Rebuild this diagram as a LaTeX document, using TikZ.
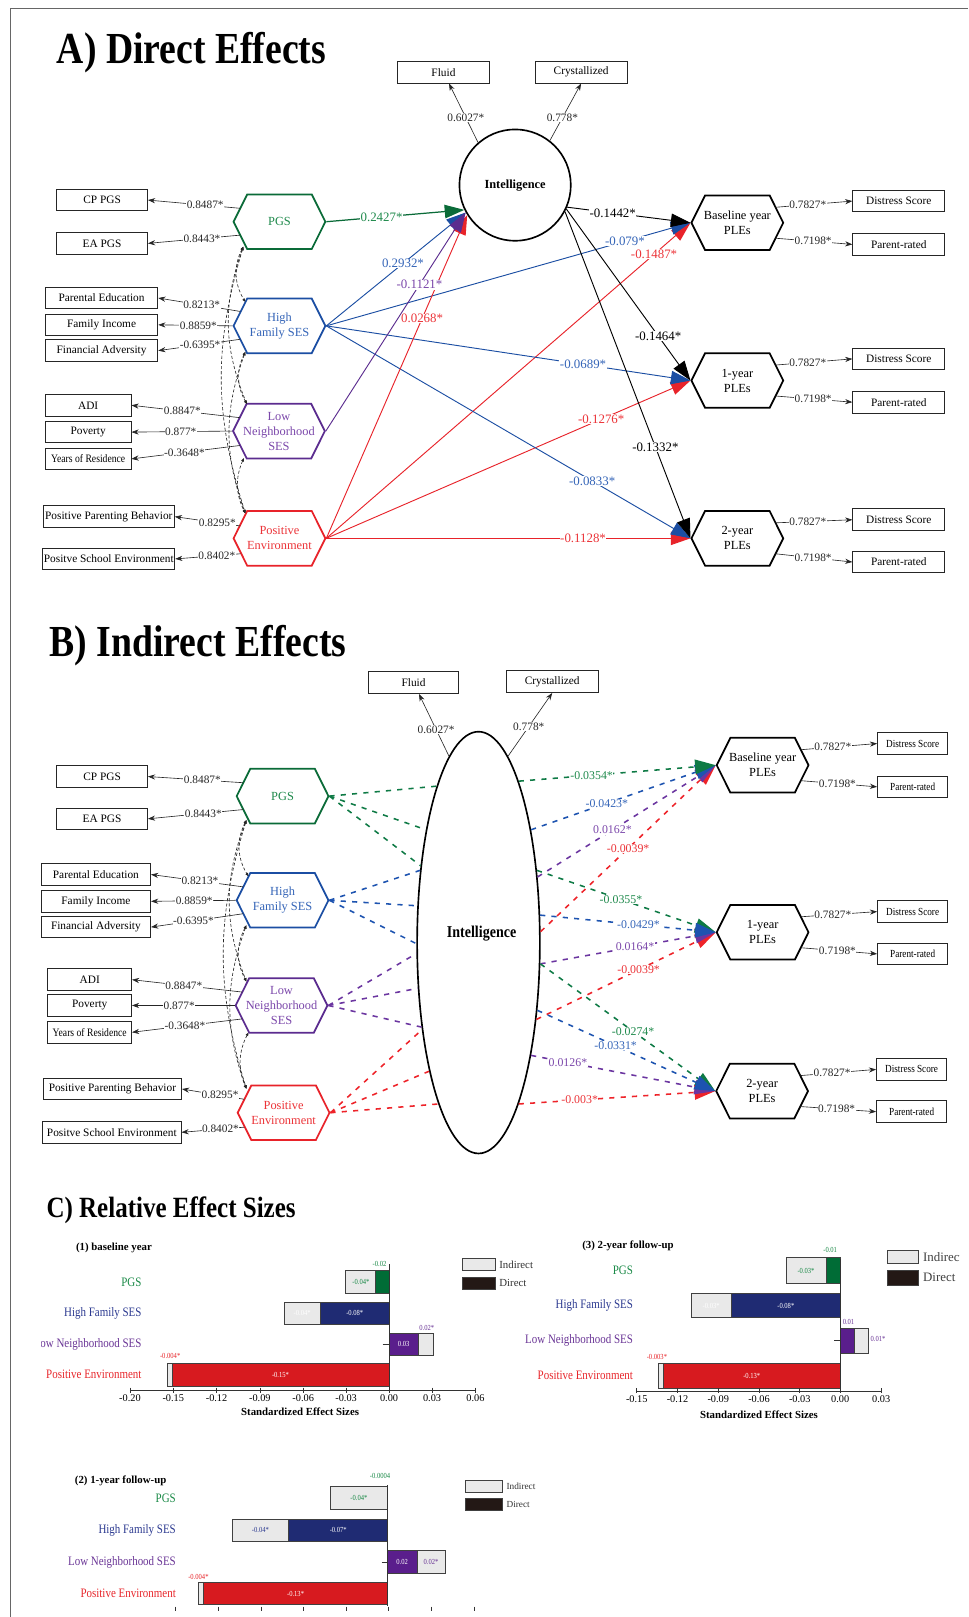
\documentclass[tikz,border=0pt]{standalone}
\usepackage{fontspec}
\usepackage{graphicx}
\setmainfont{Liberation Serif}
\newfontfamily\condf[FakeStretch=0.85]{Liberation Serif}
\usetikzlibrary{arrows.meta,shapes.geometric,shapes.symbols,calc}
\newcommand\fsz[2]{\fontsize{#1pt}{#2pt}\selectfont}
\definecolor{hgreen}{HTML}{0A6B38}
\definecolor{tgreen}{HTML}{1F8A4C}
\definecolor{hblue}{HTML}{1B4EA3}
\definecolor{tblue}{HTML}{3565B8}
\definecolor{hpurp}{HTML}{5B2C8F}
\definecolor{tpurp}{HTML}{7B47AA}
\definecolor{hred}{HTML}{E8232A}
\definecolor{tred}{HTML}{EC3338}
\definecolor{dgreen}{HTML}{0E7A45}
\definecolor{dblue}{HTML}{1D53B0}
\definecolor{dpurp}{HTML}{6B35A0}
\definecolor{dred}{HTML}{EE2329}
\definecolor{navy}{HTML}{1F2B73}
\definecolor{bgreen}{HTML}{006C36}
\definecolor{bpurp}{HTML}{5A1E8C}
\definecolor{bred}{HTML}{D71A1F}
\definecolor{lgray}{HTML}{E9E9E9}
\definecolor{dk}{HTML}{231815}
\definecolor{cgreen}{HTML}{1A8A47}
\definecolor{cnavy}{HTML}{2B3990}
\definecolor{cpurp}{HTML}{6A3596}
\definecolor{cred}{HTML}{E8262B}
\tikzset{
 box/.style={draw=black!85, line width=0.9pt, minimum height=21pt, inner sep=1pt, font=\fsz{11}{13}},
 sbox/.style={box, minimum width=68pt, font=\condf\fsz{10.5}{12}},
 hexa/.style={signal, signal to=east and west, signal pointer angle=127, draw, line width=1.7pt, minimum width=89pt, minimum height=53pt, inner ysep=0pt, inner xsep=-6pt, align=center, font=\fsz{12}{14.5}},
 ld/.style={-{Stealth[length=7pt,width=5pt]}, line width=0.6pt, draw=black!85},
 ldl/.style={fill=white, inner sep=0.5pt, font=\fsz{11}{13}, text=black!85},
 cov/.style={{Latex[length=3.5pt,width=3pt]}-{Latex[length=3.5pt,width=3pt]}, line width=0.6pt, dash pattern=on 3pt off 2pt, draw=black!85},
 pa/.style={line width=0.9pt, -{Triangle[length=19pt,width=13pt]}},
 pl/.style={fill=white, inner sep=0.5pt, font=\fsz{12.5}{14}},
 pb/.style={line width=1.5pt, dash pattern=on 5pt off 6pt, -{Triangle[length=20pt,width=14pt]}},
 pbn/.style={line width=1.5pt, dash pattern=on 5pt off 6pt},
 pbl/.style={fill=white, inner sep=0.5pt, font=\fsz{11.5}{13}},
 bar/.style={draw=black!75, line width=0.6pt},
 axl/.style={draw=black!80, line width=0.7pt},
 tickl/.style={font=\fsz{10}{12}, anchor=north, inner sep=0pt},
 cat/.style={anchor=east, font=\condf\fsz{12.5}{14}, inner sep=0pt},
 bv/.style={font=\condf\fsz{7.5}{8}, inner sep=0pt},
 ctit/.style={font=\bfseries\fsz{10.5}{12}, inner sep=0pt},
}
\begin{document}
\begin{tikzpicture}[x=1pt,y=-1pt]
\useasboundingbox (0,0) rectangle (939,1568);
\fill[white] (0,0) rectangle (939,1568);
\draw[black!60, line width=0.8pt] (10,1568) -- (10,8) -- (939,8);

% ================= Titles
\node[anchor=base west, inner sep=0pt, font=\condf\bfseries\fsz{43}{48}] (titA) at (55,62) {A) Direct Effects};
\node[anchor=base west, inner sep=0pt, font=\condf\bfseries\fsz{43}{48}] (titB) at (48,637) {B) Indirect Effects};
\node[anchor=base west, inner sep=0pt, font=\condf\bfseries\fsz{28.5}{31}] (titC) at (45,1181) {C) Relative Effect Sizes};

% ================= Panel A
\node[box, minimum width=89pt] (fluA) at (430,70) {Fluid};
\node[box, minimum width=89pt] (cryA) at (563.5,70) {Crystallized};
\node[circle, draw, line width=1.6pt, minimum size=108pt, inner sep=0pt, font=\bfseries\fsz{12}{14}] (intA) at (499.5,179.5) {Intelligence};

\node[hexa, draw=hgreen, text=tgreen] (pgsA) at (271,215) {PGS};
\node[hexa, draw=hblue, text=tblue] (hfsA) at (271,316) {High\\Family SES};
\node[hexa, draw=hpurp, text=tpurp] (lnsA) at (270.5,418) {Low\\Neighborhood\\SES};
\node[hexa, draw=hred, text=tred] (peA) at (271,522) {Positive\\Environment};
\node[hexa, draw=black] (bA) at (715,216) {Baseline year\\PLEs};
\node[hexa, draw=black] (y1A) at (715,369) {1-year\\PLEs};
\node[hexa, draw=black] (y2A) at (715,522) {2-year\\PLEs};

\node[box, minimum width=88pt] (cpA) at (99,194) {CP PGS};
\node[box, minimum width=88pt] (eaA) at (99,236) {EA PGS};
\node[box, minimum width=109pt] (edA) at (98.5,289) {Parental Education};
\node[box, minimum width=109pt] (fiA) at (98.5,315) {Family Income};
\node[box, minimum width=109pt] (faA) at (98.5,340) {Financial Adversity};
\node[box, minimum width=83pt] (adiA) at (85.5,393) {ADI};
\node[box, minimum width=83pt] (povA) at (85.5,419) {Poverty};
\node[box, minimum width=83pt, font=\condf\fsz{11}{13}] (yrA) at (85.5,445) {Years of Residence};
\node[box, minimum width=127pt] (ppA) at (105.5,501) {Positive Parenting Behavior};
\node[box, minimum width=127pt] (psA) at (105.5,542) {Positve School Environment};

\node[box, minimum width=89pt] (dA0) at (871.5,195) {Distress Score};
\node[box, minimum width=89pt] (pA0) at (871.5,237) {Parent-rated};
\node[box, minimum width=89pt] (dA1) at (871.5,348) {Distress Score};
\node[box, minimum width=89pt] (pA1) at (871.5,390) {Parent-rated};
\node[box, minimum width=89pt] (dA2) at (871.5,504) {Distress Score};
\node[box, minimum width=89pt] (pA2) at (871.5,545) {Parent-rated};

% intelligence indicators
\draw[ld] (intA.131) -- node[ldl,pos=0.42]{0.6027*} (fluA);
\draw[ld] (intA.52) -- node[ldl,pos=0.4]{0.778*} (cryA.south);

% loadings
\draw[ld] ($(pgsA)+(-38,-13)$) -- node[ldl,pos=0.38]{0.8487*} (cpA.east);
\draw[ld] ($(pgsA)+(-38,13)$) -- node[ldl,pos=0.415]{0.8443*} (eaA.east);
\draw[ld] ($(hfsA)+(-38,-14)$) -- node[ldl,pos=0.47]{0.8213*} (edA.east);
\draw[ld] (hfsA.west) -- node[ldl,pos=0.46]{0.8859*} (fiA.east);
\draw[ld] ($(hfsA)+(-38,13)$) -- node[ldl,pos=0.49]{-0.6395*} (faA.east);
\draw[ld] ($(lnsA)+(-38,-13)$) -- node[ldl,pos=0.53]{0.8847*} (adiA.east);
\draw[ld] (lnsA.west) -- node[ldl,pos=0.51]{0.877*} (povA.east);
\draw[ld] ($(lnsA)+(-38,14)$) -- node[ldl,pos=0.51]{-0.3648*} (yrA.east);
\draw[ld] ($(peA)+(-38,-12)$) -- node[ldl,pos=0.35]{0.8295*} (ppA.east);
\draw[ld] ($(peA)+(-38,15)$) -- node[ldl,pos=0.36]{0.8402*} (psA.east);

\foreach \o/\d/\p in {bA/dA0/pA0, y1A/dA1/pA1, y2A/dA2/pA2}{
 \draw[ld] ($(\o)+(37,-15)$) -- node[ldl,pos=0.42]{0.7827*} (\d.west);
 \draw[ld] ($(\o)+(37,15)$) -- node[ldl,pos=0.49]{0.7198*} (\p.west);
}

% covariances
\draw[cov] ($(pgsA)+(-35,24)$) to[bend right=29] ($(hfsA)+(-33,-23)$);
\draw[cov] ($(pgsA)+(-35,24)$) to[bend right=21] ($(lnsA)+(-31,-26)$);
\draw[cov] ($(pgsA)+(-35,24)$) to[bend right=17] ($(peA)+(-33,-24)$);
\draw[cov] ($(hfsA)+(-33,25)$) to[bend right=28] ($(lnsA)+(-31,-26)$);
\draw[cov] ($(hfsA)+(-33,25)$) to[bend right=20] ($(peA)+(-33,-24)$);
\draw[cov] ($(lnsA)+(-34,26)$) to[bend right=25] ($(peA)+(-33,-24)$);

% structural paths A
\draw[pa, hred] (peA.east) -- node[pl,text=tred,pos=0.9]{-0.1487*} (bA.west);
\draw[pa, hred] (peA.east) -- node[pl,text=tred,pos=0.755]{-0.1276*} (y1A.west);
\draw[pa, hred] (peA.east) -- node[pl,text=tred,pos=0.705]{-0.1128*} (y2A.west);
\draw[pa, hblue] (hfsA.east) -- node[pl,text=tblue,pos=0.82]{-0.079*} (bA.west);
\draw[pa, hblue] (hfsA.east) -- node[pl,text=tblue,pos=0.705]{-0.0689*} (y1A.west);
\draw[pa, hblue] (hfsA.east) -- node[pl,text=tblue,pos=0.73]{-0.0833*} (y2A.west);
\draw[pa, black] (intA.337) -- node[pl,pos=0.37]{-0.1442*} (bA.west);
\draw[pa, black] (intA.335) -- node[pl,pos=0.74]{-0.1464*} (y1A.west);
\draw[pa, black] (intA.332) -- node[pl,pos=0.72]{-0.1332*} (y2A.west);

\draw[pa, hred] (peA.east) -- node[pl,text=tred,pos=0.68]{0.0268*} (intA.212);
\draw[pa, hblue] (hfsA.east) -- node[pl,text=tblue,pos=0.55]{0.2932*} (intA.209);
\draw[pa, hgreen, line width=1.2pt] (pgsA.east) -- node[pl,text=tgreen,pos=0.40]{0.2427*} (intA.206);
\draw[pa, hpurp] (lnsA.east) -- node[pl,text=tpurp,pos=0.67]{-0.1121*} (intA.209);

% ================= Panel B
\node[box, minimum width=88pt] (fluB) at (401,662) {Fluid};
\node[box, minimum width=89pt] (cryB) at (535.5,661) {Crystallized};
\node[ellipse, draw, line width=1.6pt, minimum width=119pt, minimum height=409pt, inner sep=0pt] (intB) at (464,914) {};
\node[font=\condf\bfseries\fsz{16}{18}, inner sep=0pt] (intBt) at (467,905) {Intelligence};

\node[hexa, draw=hgreen, text=tgreen] (pgsB) at (274,772) {PGS};
\node[hexa, draw=hblue, text=tblue] (hfsB) at (274,873) {High\\Family SES};
\node[hexa, draw=hpurp, text=tpurp] (lnsB) at (273,975) {Low\\Neighborhood\\SES};
\node[hexa, draw=hred, text=tred] (peB) at (275,1079) {Positive\\Environment};
\node[hexa, draw=black] (bB) at (739.5,742) {Baseline year\\PLEs};
\node[hexa, draw=black] (y1B) at (739.5,904) {1-year\\PLEs};
\node[hexa, draw=black] (y2B) at (739,1058) {2-year\\PLEs};

\node[box, minimum width=88pt] (cpB) at (99,753) {CP PGS};
\node[box, minimum width=88pt] (eaB) at (99,794) {EA PGS};
\node[box, minimum width=106pt] (edB) at (93,848) {Parental Education};
\node[box, minimum width=106pt] (fiB) at (93,874) {Family Income};
\node[box, minimum width=106pt] (faB) at (93,899) {Financial Adversity};
\node[box, minimum width=81pt] (adiB) at (87,950) {ADI};
\node[box, minimum width=81pt] (povB) at (87,975) {Poverty};
\node[box, minimum width=81pt, font=\condf\fsz{11}{13}] (yrB) at (87,1001) {Years of Residence};
\node[box, minimum width=134pt] (ppB) at (109,1056) {Positive Parenting Behavior};
\node[box, minimum width=134pt] (psB) at (108.5,1098) {Positve School Environment};

\node[sbox] (dB0) at (885,721) {Distress Score};
\node[sbox] (pB0) at (885,763) {Parent-rated};
\node[sbox] (dB1) at (885,884) {Distress Score};
\node[sbox] (pB1) at (885,925) {Parent-rated};
\node[sbox] (dB2) at (884,1037) {Distress Score};
\node[sbox] (pB2) at (884,1078) {Parent-rated};

\draw[ld] (intB.99) -- node[ldl,pos=0.43]{0.6027*} (fluB);
\draw[ld] (intB.81) -- node[ldl,pos=0.47]{0.778*} (cryB.south);

\draw[ld] ($(pgsB)+(-38,-13)$) -- node[ldl,pos=0.43]{0.8487*} (cpB.east);
\draw[ld] ($(pgsB)+(-38,13)$) -- node[ldl,pos=0.42]{0.8443*} (eaB.east);
\draw[ld] ($(hfsB)+(-38,-13)$) -- node[ldl,pos=0.47]{0.8213*} (edB.east);
\draw[ld] (hfsB.west) -- node[ldl,pos=0.49]{0.8859*} (fiB.east);
\draw[ld] ($(hfsB)+(-38,13)$) -- node[ldl,pos=0.54]{-0.6395*} (faB.east);
\draw[ld] ($(lnsB)+(-38,-13)$) -- node[ldl,pos=0.53]{0.8847*} (adiB.east);
\draw[ld] (lnsB.west) -- node[ldl,pos=0.54]{0.877*} (povB.east);
\draw[ld] ($(lnsB)+(-38,13)$) -- node[ldl,pos=0.52]{-0.3648*} (yrB.east);
\draw[ld] ($(peB)+(-38,-13)$) -- node[ldl,pos=0.39]{0.8295*} (ppB.east);
\draw[ld] ($(peB)+(-38,14)$) -- node[ldl,pos=0.38]{0.8402*} (psB.east);

\foreach \o/\d/\p in {bB/dB0/pB0, y1B/dB1/pB1, y2B/dB2/pB2}{
 \draw[ld] ($(\o)+(37,-15)$) -- node[ldl,pos=0.42]{0.7827*} (\d.west);
 \draw[ld] ($(\o)+(37,15)$) -- node[ldl,pos=0.48]{0.7198*} (\p.west);
}

\draw[cov] ($(pgsB)+(-35,23)$) to[bend right=29] ($(hfsB)+(-33,-23)$);
\draw[cov] ($(pgsB)+(-35,23)$) to[bend right=21] ($(lnsB)+(-34,-23)$);
\draw[cov] ($(pgsB)+(-35,23)$) to[bend right=17] ($(peB)+(-36,-23)$);
\draw[cov] ($(hfsB)+(-35,24)$) to[bend right=28] ($(lnsB)+(-34,-23)$);
\draw[cov] ($(hfsB)+(-35,24)$) to[bend right=20] ($(peB)+(-36,-23)$);
\draw[cov] ($(lnsB)+(-32,26)$) to[bend right=25] ($(peB)+(-36,-23)$);

% left dashed segments
\draw[pbn, dgreen] (pgsB.east) -- (intB.105);
\draw[pbn, dgreen] (pgsB.east) -- (intB.115);
\draw[pbn, dgreen] (pgsB.east) -- (intB.127);
\draw[pbn, dblue] (hfsB.east) -- (intB.129);
\draw[pbn, dblue] (hfsB.east) -- (intB.149);
\draw[pbn, dblue] (hfsB.east) -- (intB.181);
\draw[pbn, dpurp] (lnsB.east) -- (intB.190);
\draw[pbn, dpurp] (lnsB.east) -- (intB.217);
\draw[pbn, dpurp] (lnsB.east) -- (intB.236);
\draw[pbn, dred] (peB.east) -- (intB.237);
\draw[pbn, dred] (peB.east) -- (intB.249);
\draw[pbn, dred] (peB.east) -- (intB.256);

% right dashed arrows
\draw[pb, dred] (intB.10) -- node[pbl,text=tred,pos=0.5]{-0.0039*} (bB.west);
\draw[pb, dpurp] (intB.48) -- node[pbl,text=tpurp,pos=0.42]{0.0162*} (bB.west);
\draw[pb, dblue] (intB.65) -- node[pbl,text=tblue,pos=0.41]{-0.0423*} (bB.west);
\draw[pb, dgreen] (intB.76) -- node[pbl,text=tgreen,pos=0.37]{-0.0354*} (bB.west);
\draw[pb, dred] (intB.307) -- node[pbl,text=tred,pos=0.57]{-0.0039*} (y1B.west);
\draw[pb, dpurp] (intB.341) -- node[pbl,text=tpurp,pos=0.54]{0.0164*} (y1B.west);
\draw[pb, dgreen] (intB.51) -- node[pbl,text=tgreen,pos=0.47]{-0.0355*} (y1B.west);
\draw[pb, dblue] (intB.24) -- node[pbl,text=tblue,pos=0.56]{-0.0429*} (y1B.west);
\draw[pb, dred] (intB.284) -- node[pbl,text=tred,pos=0.31]{-0.003*} (y2B.west);
\draw[pb, dpurp] (intB.295) -- node[pbl,text=tpurp,pos=0.2]{0.0126*} (y2B.west);
\draw[pb, dgreen] (intB.341) -- node[pbl,text=tgreen,pos=0.53]{-0.0274*} (y2B.west);
\draw[pb, dblue] (intB.311) -- node[pbl,text=tblue,pos=0.44]{-0.0331*} (y2B.west);

% ================= Panel C
% ---- chart 1
\node[ctit] (c1ti) at (110.5,1210) {(1) baseline year};
\filldraw[bar, fill=lgray] (335.3,1232) rectangle (364.4,1254);
\filldraw[bar, fill=bgreen] (364.4,1232) rectangle (377.3,1254);
\filldraw[bar, fill=lgray] (275.5,1262.5) rectangle (311,1284.5);
\filldraw[bar, fill=navy] (311,1262.5) rectangle (377.3,1284.5);
\filldraw[bar, fill=bpurp] (377.3,1292.6) rectangle (405.7,1314.3);
\filldraw[bar, fill=lgray] (405.7,1292.6) rectangle (419.7,1314.3);
\filldraw[bar, fill=lgray] (162.3,1321.7) rectangle (167.5,1344.3);
\filldraw[bar, fill=bred] (167.5,1321.7) rectangle (377.3,1344.3);
\draw[axl] (377.3,1226) -- (377.3,1348.2);
\draw[axl] (371,1303.5) -- (377.3,1303.5);
\draw[axl] (126,1348.2) -- (461,1348.2);
\foreach[count=\i] \x/\t in {126/-0.20,168/-0.15,210/-0.12,252/-0.09,294/-0.06,335.6/-0.03,377.3/0.00,419/0.03,461/0.06}{
 \draw[axl] (\x,1345.5) -- (\x,1350.5);
 \node[tickl] (c1t\i) at (\x,1352) {\t};
}
\node[ctit] (c1ax) at (291,1369) {Standardized Effect Sizes};
\node[cat, text=cgreen] (c1c1) at (137.4,1243) {PGS};
\node[cat, text=cnavy] (c1c2) at (137.4,1273.5) {High Family SES};
\begin{scope}
\clip (40,1290) rectangle (200,1318);
\node[cat, text=cpurp] (c1c3) at (137.4,1303.5) {Low Neighborhood SES};
\end{scope}
\node[cat, text=cred] (c1c4) at (137.4,1333) {Positive Environment};
\node[bv, text=cgreen] (c1v1) at (368,1225.3) {-0.02};
\node[bv, text=cgreen] (c1v2) at (350,1243) {-0.04*};
\node[bv, text=white] (c1v3) at (293,1273.5) {-0.04*};
\node[bv, text=white] (c1v4) at (344,1273.5) {-0.08*};
\node[bv, text=white] (c1v5) at (391.5,1303.5) {0.03};
\node[bv, text=cpurp] (c1v6) at (413.8,1287.8) {0.02*};
\node[bv, text=cred] (c1v7) at (165,1315) {-0.004*};
\node[bv, text=white] (c1v8) at (272,1333) {-0.15*};
\filldraw[bar, fill=lgray] (448.4,1220.5) rectangle (480.1,1231.8);
\filldraw[bar, fill=dk] (448.4,1238.3) rectangle (480.1,1250.5);
\node[anchor=west, font=\fsz{10.5}{12}, inner sep=0pt, text=black!80] (c1li) at (484,1226) {Indirect};
\node[anchor=west, font=\fsz{10.5}{12}, inner sep=0pt, text=black!80] (c1ld) at (484,1244.4) {Direct};

% ---- chart 3
\node[ctit] (c3ti) at (609,1208) {(3) 2-year follow-up};
\filldraw[bar, fill=lgray] (762,1219.5) rectangle (801.2,1244.1);
\filldraw[bar, fill=bgreen] (801.2,1219.5) rectangle (814.7,1244.1);
\filldraw[bar, fill=lgray] (670.2,1253.8) rectangle (709,1277.7);
\filldraw[bar, fill=navy] (709,1253.8) rectangle (814.7,1277.7);
\filldraw[bar, fill=bpurp] (814.7,1287.8) rectangle (828,1312.6);
\filldraw[bar, fill=lgray] (828,1287.8) rectangle (841.6,1312.6);
\filldraw[bar, fill=lgray] (638.5,1321.7) rectangle (643.4,1346.6);
\filldraw[bar, fill=bred] (643.4,1321.7) rectangle (814.7,1346.6);
\draw[axl] (814.7,1221) -- (814.7,1348.8);
\draw[axl] (809,1300) -- (814.7,1300);
\draw[axl] (617.5,1348.8) -- (854.5,1348.8);
\foreach[count=\i] \x/\t in {617.5/-0.15,657/-0.12,696.5/-0.09,736/-0.06,775.5/-0.03,814.7/0.00,854.5/0.03}{
 \draw[axl] (\x,1346) -- (\x,1351);
 \node[tickl] (c3t\i) at (\x,1353) {\t};
}
\node[ctit] (c3ax) at (736,1372) {Standardized Effect Sizes};
\node[cat, text=cgreen] (c3c1) at (614,1232) {PGS};
\node[cat, text=cnavy] (c3c2) at (614,1266) {High Family SES};
\node[cat, text=cpurp] (c3c3) at (614,1300) {Low Neighborhood SES};
\node[cat, text=cred] (c3c4) at (614,1334) {Positive Environment};
\node[bv, text=cgreen] (c3v1) at (805,1212.4) {-0.01};
\node[bv, text=cgreen] (c3v2) at (781.6,1232) {-0.03*};
\node[bv, text=white] (c3v3) at (689.6,1266) {-0.03*};
\node[bv, text=white] (c3v4) at (762,1266) {-0.08*};
\node[bv, text=cpurp] (c3v5) at (822.8,1281.9) {0.01};
\node[bv, text=cpurp, anchor=west] (c3v6) at (844,1298.7) {0.01*};
\node[bv, text=cred] (c3v7) at (637,1316) {-0.003*};
\node[bv, text=white] (c3v8) at (729,1334) {-0.13*};
\filldraw[bar, fill=lgray] (860,1212) rectangle (890,1225.3);
\filldraw[bar, fill=dk] (860,1231.8) rectangle (890,1246.4);
\begin{scope}
\clip (891,1200) rectangle (930,1256);
\node[anchor=west, font=\fsz{12.5}{14}, inner sep=0pt, text=black!75] (c3li) at (895,1219) {Indirect};
\node[anchor=west, font=\fsz{12.5}{14}, inner sep=0pt, text=black!75] (c3ld) at (895,1239) {Direct};
\end{scope}

% ---- chart 2
\node[ctit] (c2ti) at (117,1435.5) {(2) 1-year follow-up};
\filldraw[bar, fill=lgray] (320.7,1441.3) rectangle (376,1463.9);
\filldraw[bar, fill=lgray] (225.4,1473) rectangle (279.7,1495);
\filldraw[bar, fill=navy] (279.7,1473) rectangle (376,1495);
\filldraw[bar, fill=bpurp] (376,1503.4) rectangle (404.2,1526);
\filldraw[bar, fill=lgray] (404.2,1503.4) rectangle (431.6,1526);
\filldraw[bar, fill=lgray] (192.4,1534.7) rectangle (197.2,1556.1);
\filldraw[bar, fill=bred] (197.2,1534.7) rectangle (376,1556.1);
\draw[axl] (376,1440) -- (376,1557);
\draw[axl] (370,1515) -- (376,1515);
\foreach \x in {170.4,211.7,253,294.3,335.6,376.9,418.2,459.5}
 \draw[axl] (\x,1558) -- (\x,1562);
\node[cat, text=cgreen] (c2c1) at (170.7,1453) {PGS};
\node[cat, text=cnavy] (c2c2) at (170.7,1484) {High Family SES};
\node[cat, text=cpurp] (c2c3) at (170.7,1515) {Low Neighborhood SES};
\node[cat, text=cred] (c2c4) at (170.7,1545) {Positive Environment};
\node[bv, text=cgreen] (c2v1) at (368.6,1431.3) {-0.0004};
\node[bv, text=cgreen] (c2v2) at (348,1452.6) {-0.04*};
\node[bv, text=cnavy] (c2v3) at (252.5,1484) {-0.04*};
\node[bv, text=white] (c2v4) at (328,1484) {-0.07*};
\node[bv, text=white] (c2v5) at (390,1514.7) {0.02};
\node[bv, text=cpurp] (c2v6) at (418,1514.7) {0.02*};
\node[bv, text=cred] (c2v7) at (192.4,1529.2) {-0.004*};
\node[bv, text=white] (c2v8) at (286.6,1545.4) {-0.13*};
\filldraw[bar, fill=lgray] (451,1435) rectangle (487,1447);
\filldraw[bar, fill=dk] (451,1453) rectangle (487,1465);
\node[anchor=west, font=\fsz{9}{11}, inner sep=0pt, text=black!80] (c2li) at (491,1441) {Indirect};
\node[anchor=west, font=\fsz{9}{11}, inner sep=0pt, text=black!80] (c2ld) at (491,1459) {Direct};
\end{tikzpicture}
\end{document}
